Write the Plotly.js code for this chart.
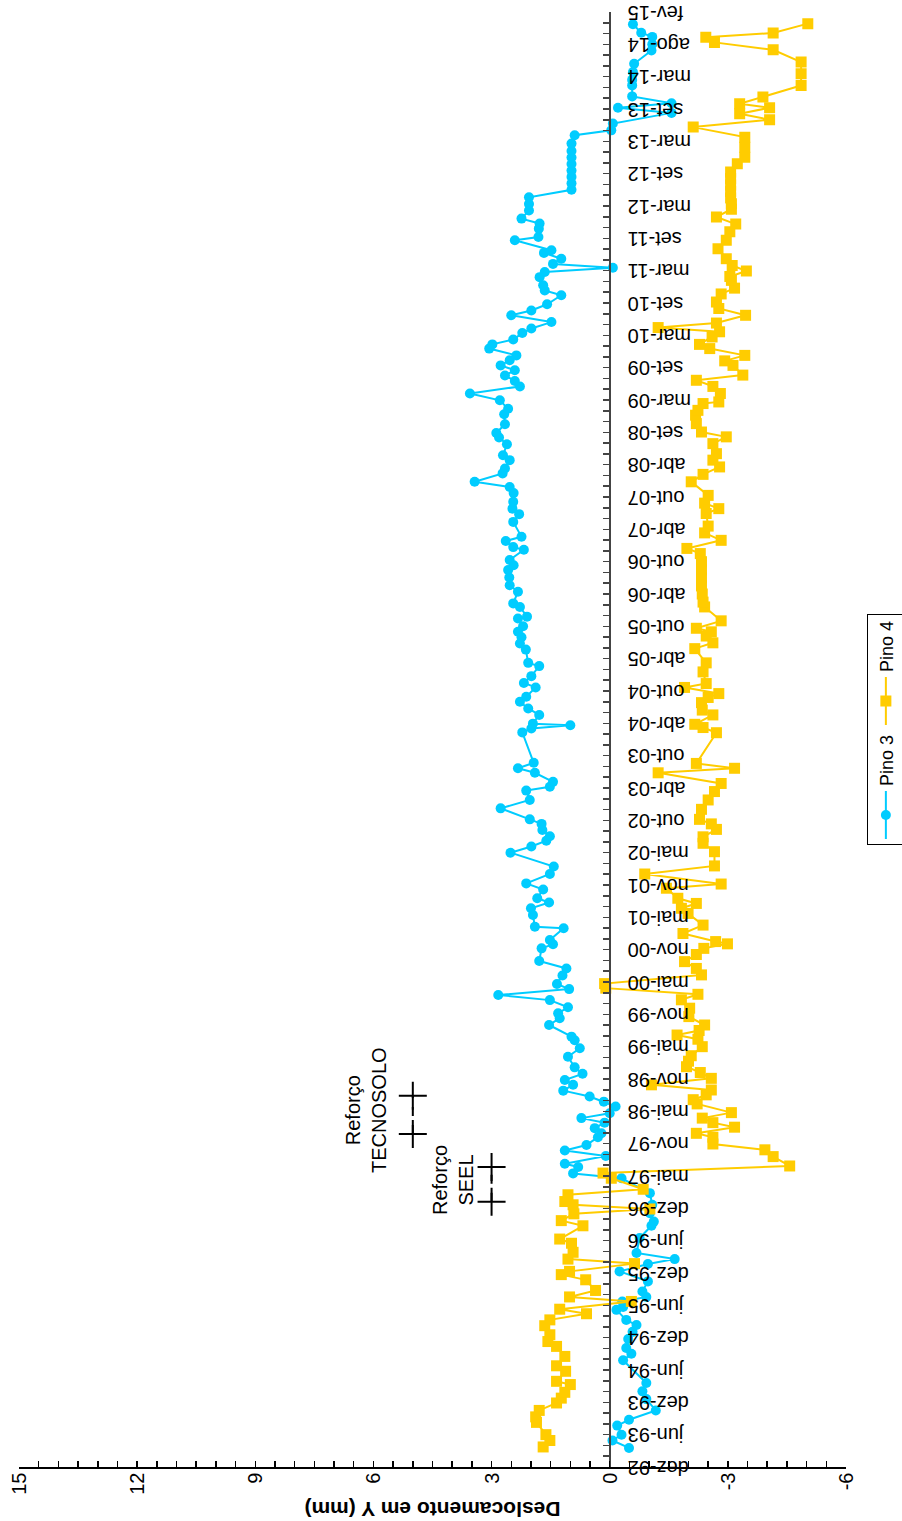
<!DOCTYPE html>
<html>
<head>
<meta charset="utf-8">
<script src="https://cdn.plot.ly/plotly-3.0.1.min.js"></script>
<style>
html, body { margin:0; padding:0; overflow:hidden; width:902px; height:1521px; background:#fff; }
#chart { position:absolute; left:0; top:0; width:1521px; height:902px;
  transform-origin:0 0; transform:translateY(1521px) rotate(-90deg); }
</style>
</head>
<body>
<div id="chart"></div>
<script>
// Tick labels of the (categorical, evenly spaced) date axis
const dateLabels = ["dez-92","jun-93","dez-93","jun-94","dez-94","jun-95","dez-95","jun-96","dez-96","mai-97","nov-97","mai-98","nov-98","mai-99","nov-99","mai-00","nov-00","mai-01","nov-01","mai-02","out-02","abr-03","out-03","abr-04","out-04","abr-05","out-05","abr-06","out-06","abr-07","out-07","abr-08","set-08","mar-09","set-09","mar-10","set-10","mar-11","set-11","mar-12","set-12","mar-13","set-13","mar-14","ago-14","fev-15"];
const dispTicks = [15,12,9,6,3,0,-3,-6];
const dispTickText = ["15","12","9","6","3","0","-3","-6"];

// Pino 3 : position on date axis (label index units) and displacement (mm)
const pino3T = [0.59,0.82,1.0,1.28,1.46,1.75,2.10,2.34,2.60,3.30,3.50,3.68,3.96,4.18,4.39,4.55,4.86,4.95,5.12,5.26,5.43,5.74,6.05,6.28,6.43,6.62,7.08,7.46,7.59,7.85,8.11,8.47,8.93,9.08,9.28,9.38,9.62,9.79,9.96,10.2,10.32,10.48,10.65,10.79,10.94,11.15,11.3,11.46,11.64,11.82,11.97,12.16,12.36,12.69,12.95,13.2,13.31,13.67,13.88,14.03,14.22,14.44,14.6,14.78,14.94,15.2,15.42,15.65,16.04,16.17,16.3,16.66,16.71,17.07,17.28,17.46,17.59,17.86,18.05,18.34,18.57,19.0,19.19,19.37,19.51,19.7,19.89,20.03,20.37,20.63,20.92,21.04,21.19,21.47,21.61,21.78,22.72,22.84,22.94,22.99,23.26,23.46,23.67,23.82,24.11,24.25,24.46,24.77,24.87,25.28,25.47,25.66,25.83,26.0,26.24,26.3,26.6,26.71,27.07,27.27,27.51,27.74,27.89,28.05,28.37,28.45,28.64,28.77,29.23,29.47,29.64,29.85,30.12,30.31,30.47,30.73,30.88,31.14,31.29,31.63,31.84,31.98,32.25,32.56,32.73,32.99,33.2,33.42,33.59,33.76,33.92,34.07,34.23,34.38,34.59,34.72,34.87,35.07,35.21,35.41,35.62,35.77,35.96,36.24,36.39,36.55,36.8,36.96,37.09,37.21,37.37,37.55,37.63,37.94,38.04,38.3,38.46,38.61,38.86,39.06,39.27,39.5,39.7,39.9,40.1,40.3,40.5,40.7,40.93,41.19,41.34,41.55,41.88,42.04,42.18,42.39,42.73,42.9,43.14,43.4,43.81,44.0,44.23,44.36,44.62];
const pino3V = [-0.49,-0.07,-0.30,-0.19,-0.49,-1.17,-0.93,-0.83,-0.93,-0.34,-0.55,-0.42,-0.47,-0.58,-0.68,-0.42,-0.17,-0.34,-0.32,-0.93,-0.83,-0.97,-0.25,-0.97,-1.65,-0.68,-0.76,-1.06,-1.12,-1.02,-1.08,-1.02,-0.30,0.93,0.80,1.14,0.10,1.14,0.59,0.30,0.21,0.38,0.13,0.72,0.0,-0.15,0.15,0.51,1.18,0.93,1.14,0.69,0.89,1.06,0.76,0.89,0.97,1.54,1.27,1.31,1.06,1.52,2.83,1.03,1.34,1.20,1.10,1.79,1.73,1.44,1.52,1.17,1.90,1.95,2.00,1.54,1.84,1.69,2.12,1.52,1.42,2.52,1.99,1.61,1.52,1.71,1.73,2.03,2.77,2.03,2.12,1.52,1.44,1.90,2.33,1.93,2.22,1.99,1.00,1.95,1.79,2.07,2.28,2.12,1.88,2.18,1.99,1.79,2.07,2.13,2.28,2.24,2.33,2.20,2.33,2.10,2.28,2.45,2.33,2.54,2.55,2.58,2.44,2.54,2.18,2.45,2.64,2.24,2.45,2.30,2.47,2.45,2.44,2.54,3.43,2.72,2.66,2.54,2.71,2.61,2.81,2.88,2.66,2.68,2.58,2.79,3.55,2.28,2.41,2.66,2.41,2.77,2.54,2.37,3.06,2.98,2.45,2.22,1.99,1.48,2.50,1.99,1.59,1.23,1.65,1.69,1.78,1.65,-0.08,1.44,1.23,1.67,1.48,2.41,1.81,1.80,1.78,2.24,2.05,2.05,2.05,0.97,0.97,0.97,0.97,0.97,0.97,0.97,0.97,0.89,-0.04,-0.08,-1.57,-0.21,-1.57,-0.57,-0.57,-0.57,-0.59,-0.62,-1.06,-1.08,-1.08,-0.80,-0.59];

// Pino 4
const pino4T = [0.62,0.82,1.0,1.38,1.55,1.75,1.98,2.13,2.31,2.55,2.65,2.96,3.13,3.42,3.73,3.88,4.09,4.37,4.55,4.74,4.88,5.12,5.26,5.46,5.79,5.95,6.05,6.29,6.43,6.64,6.92,7.05,7.46,7.62,7.83,7.98,8.11,8.21,8.42,8.59,8.93,9.09,9.31,9.6,9.81,9.99,10.2,10.32,10.51,10.65,10.79,10.96,11.23,11.36,11.51,11.66,11.82,12.02,12.2,12.38,12.55,12.72,13.0,13.23,13.36,13.5,13.67,13.93,14.19,14.45,14.62,14.81,14.95,15.22,15.42,15.63,15.85,16.04,16.18,16.25,16.5,16.76,17.12,17.28,17.43,17.59,17.9,18.03,18.34,18.59,19.03,19.29,19.49,19.72,19.89,20.03,20.34,20.63,20.89,21.14,21.47,21.61,21.76,22.71,22.87,22.97,23.26,23.41,23.64,23.8,23.92,24.11,24.23,24.59,24.87,25.31,25.49,25.7,25.83,25.94,26.17,26.6,26.75,27.0,27.25,27.5,27.75,28.0,28.25,28.41,28.66,28.89,29.1,29.49,29.64,29.81,30.05,30.47,30.7,30.93,31.14,31.34,31.65,31.86,32.01,32.27,32.53,32.68,32.89,32.94,33.2,33.42,33.61,33.77,34.07,34.21,34.38,34.59,34.72,34.95,35.11,35.24,35.38,35.62,35.83,36.03,36.28,36.46,36.7,36.82,36.99,37.16,37.37,37.68,37.94,38.2,38.44,38.66,38.9,39.07,39.25,39.45,39.65,39.85,40.05,40.31,40.51,40.82,41.13,41.44,41.67,41.85,42.04,42.16,42.37,42.73,43.09,43.45,43.83,44.06,44.22,44.35,44.64];
const pino4V = [1.69,1.52,1.62,1.86,1.88,1.79,1.35,1.23,1.14,1.00,1.35,1.12,1.35,1.14,1.35,1.57,1.52,1.65,1.52,0.59,1.27,-0.55,1.02,0.36,0.61,1.23,1.02,-0.63,1.06,0.93,0.97,1.27,0.68,1.23,0.91,-1.02,0.93,1.14,1.06,-0.85,-0.04,0.17,-4.57,-4.15,-3.94,-2.62,-2.62,-2.20,-3.17,-2.62,-2.35,-3.09,-2.22,-2.12,-2.45,-2.58,-1.06,-2.58,-2.30,-1.95,-2.00,-2.07,-2.35,-2.24,-1.71,-2.27,-2.41,-2.01,-2.03,-1.82,-2.24,0.10,0.13,-2.33,-2.20,-1.90,-2.20,-2.39,-2.99,-2.69,-1.86,-2.37,-1.99,-1.82,-2.20,-1.73,-1.44,-2.83,-0.89,-2.66,-2.66,-2.37,-2.37,-2.71,-2.58,-2.28,-2.33,-2.50,-2.66,-2.83,-1.23,-3.17,-2.20,-2.71,-2.37,-2.16,-2.62,-2.35,-2.33,-2.50,-2.77,-1.90,-2.45,-2.37,-2.45,-2.16,-2.62,-2.45,-2.58,-2.20,-2.83,-2.41,-2.37,-2.35,-2.33,-2.33,-2.33,-2.33,-2.30,-1.96,-2.83,-2.41,-2.50,-2.45,-2.77,-2.41,-2.50,-2.07,-2.37,-2.79,-2.62,-2.71,-2.62,-2.96,-2.33,-2.20,-2.18,-2.24,-2.37,-2.77,-2.81,-2.62,-2.20,-3.38,-3.13,-2.92,-3.43,-2.54,-2.28,-2.60,-2.79,-1.23,-2.71,-3.45,-2.77,-2.71,-2.83,-3.17,-3.09,-3.05,-3.47,-3.11,-2.96,-2.75,-2.96,-3.05,-3.20,-2.71,-3.09,-3.09,-3.07,-3.07,-3.07,-3.07,-3.07,-3.24,-3.43,-3.43,-3.43,-2.12,-4.06,-3.30,-4.06,-3.30,-3.89,-4.86,-4.86,-4.86,-4.15,-2.66,-2.44,-4.15,-5.03];

// Reinforcement markers
const seelT = [8.20, 9.28];
const seelV = [3, 3];
const tecnoT = [10.30, 11.48];
const tecnoV = [5, 5];

const FONT = 'Arial, "Liberation Sans", sans-serif';
const cyan = 'rgb(0,204,255)';
const yellow = 'rgb(255,204,0)';

const traces = [
  {x: pino3T, y: pino3V, name: 'Pino 3', type: 'scatter', mode: 'lines+markers',
   line: {color: cyan, width: 2}, marker: {symbol: 'circle', size: 10, color: cyan}},
  {x: pino4T, y: pino4V, name: 'Pino 4', type: 'scatter', mode: 'lines+markers',
   line: {color: yellow, width: 2}, marker: {symbol: 'square', size: 11, color: yellow}},
  {x: seelT, y: seelV, type: 'scatter', mode: 'lines+markers', showlegend: false,
   line: {color: '#000', width: 2, dash: 'dash'},
   marker: {symbol: 'cross-thin-open', size: 20, line: {color: '#000', width: 2}}},
  {x: tecnoT, y: tecnoV, type: 'scatter', mode: 'lines+markers', showlegend: false,
   line: {color: '#000', width: 2, dash: 'dash'},
   marker: {symbol: 'cross-thin-open', size: 20, line: {color: '#000', width: 2}}}
];

const layout = {
  width: 1521, height: 902,
  margin: {l: 54, r: 12, t: 19, b: 56, autoexpand: false},
  paper_bgcolor: '#fff', plot_bgcolor: '#fff',
  font: {family: FONT, size: 20, color: '#000'},
  showlegend: true,
  legend: {orientation: 'h', x: 0.4275, xanchor: 'left', y: -0.025, yanchor: 'top',
           itemwidth: 48,
           bordercolor: '#000', borderwidth: 1, font: {family: FONT, size: 18, color: '#000'},
           bgcolor: '#fff'},
  xaxis: {
    range: [0, 45], anchor: 'free', position: 6/21,
    tickmode: 'array', tickvals: dateLabels.map((_, i) => i), ticktext: dateLabels,
    tickangle: -90, ticks: 'inside', ticklen: 6, tickwidth: 1.5, tickcolor: '#444',
    ticklabelstandoff: 9,
    showline: true, linecolor: '#444', linewidth: 2,
    showgrid: false, zeroline: false,
    tickfont: {family: FONT, size: 20, color: '#000'},
    minor: {tickmode: 'linear', tick0: 0, dtick: 1/3, ticks: 'inside', ticklen: 6, tickwidth: 1.5, tickcolor: '#444', showgrid: false}
  },
  yaxis: {
    range: [-6, 15], domain: [0, 1],
    tickmode: 'array', tickvals: dispTicks, ticktext: dispTickText,
    ticks: 'inside', ticklen: 6, tickwidth: 1.5, tickcolor: '#000',
    showline: true, linecolor: '#000', linewidth: 1.5,
    showgrid: false, zeroline: false,
    tickfont: {family: FONT, size: 20, color: '#000'},
    minor: {tickmode: 'linear', tick0: 0, dtick: 0.5, ticks: 'inside', ticklen: 6, tickwidth: 1.5, tickcolor: '#000', showgrid: false},
    title: {text: '<b>Deslocamento em Y (mm)</b>', font: {family: FONT, size: 21, color: '#000'}, standoff: 4}
  },
  annotations: [
    {x: 8.88, y: 3.99, xref: 'x', yref: 'y', text: 'Reforço<br>SEEL', showarrow: false,
     xanchor: 'center', yanchor: 'middle', font: {family: FONT, size: 20, color: '#000'}},
    {x: 11.05, y: 6.2, xref: 'x', yref: 'y', text: 'Reforço<br>TECNOSOLO', showarrow: false,
     xanchor: 'center', yanchor: 'middle', font: {family: FONT, size: 20, color: '#000'}}
  ]
};

Plotly.newPlot('chart', traces, layout, {staticPlot: true, displayModeBar: false});
</script>
</body>
</html>
